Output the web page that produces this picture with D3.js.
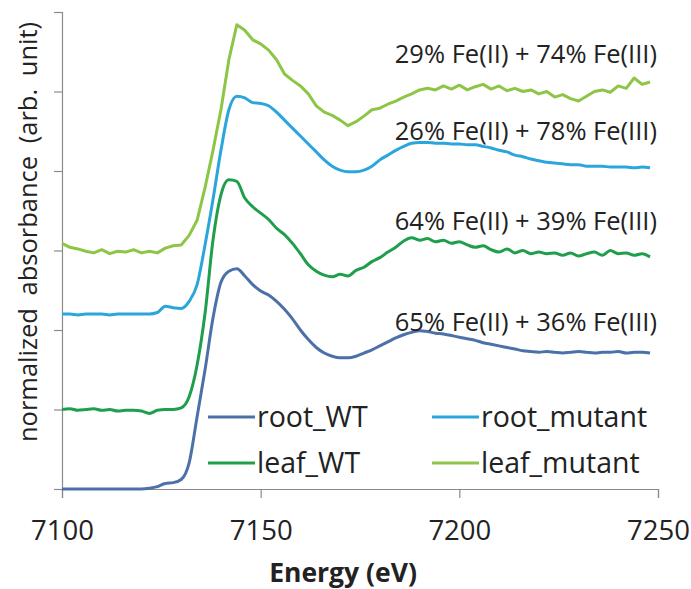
<!DOCTYPE html>
<html>
<head>
<meta charset="utf-8">
<script src="https://cdnjs.cloudflare.com/ajax/libs/d3/7.8.5/d3.min.js"></script>
<style>
  body { margin: 0; background: #fff; }
  svg { display: block; font-family: "Open Sans", "Liberation Sans", sans-serif; }
</style>
</head>
<body>
<script>
// energy grid (eV), every 2 eV from 7100 to 7248
var energy = d3.range(7100, 7249, 2);

// normalized absorbance, stacked with offsets as in the figure
var rootWT = [
  0,0,0,0,0,0,0,0,0,0,
  0,0.01,0.03,0.07,0.08,0.12,0.33,0.91,1.50,2.15,
  2.60,2.74,2.77,2.68,2.57,2.49,2.44,2.36,2.26,2.14,
  2.00,1.88,1.78,1.71,1.67,1.65,1.65,1.67,1.71,1.75,
  1.80,1.85,1.90,1.94,1.97,1.99,1.98,1.96,1.95,1.93,
  1.91,1.89,1.87,1.84,1.82,1.80,1.78,1.76,1.74,1.73,
  1.72,1.73,1.72,1.71,1.72,1.73,1.72,1.71,1.72,1.72,
  1.73,1.71,1.72,1.72,1.71
];
var rootMutant = [
  2.20,2.20,2.19,2.20,2.20,2.20,2.19,2.20,2.20,2.20,
  2.20,2.20,2.22,2.30,2.28,2.27,2.36,2.57,3.07,3.64,
  4.26,4.77,4.94,4.92,4.86,4.85,4.82,4.74,4.64,4.54,
  4.44,4.34,4.24,4.14,4.06,4.01,3.99,3.99,4.01,4.06,
  4.14,4.20,4.26,4.31,4.35,4.36,4.36,4.35,4.35,4.34,
  4.34,4.33,4.33,4.31,4.29,4.26,4.24,4.20,4.18,4.15,
  4.13,4.11,4.10,4.09,4.08,4.08,4.06,4.06,4.06,4.05,
  4.05,4.05,4.04,4.05,4.04
];
var leafWT = [
  1.00,1.01,0.99,1.00,1.01,0.99,1.00,0.98,0.99,0.99,
  0.98,0.95,0.99,1.00,1.00,1.02,1.16,1.56,2.21,3.13,
  3.70,3.89,3.87,3.66,3.55,3.47,3.39,3.28,3.20,3.09,
  2.96,2.82,2.74,2.69,2.67,2.70,2.68,2.75,2.79,2.86,
  2.91,2.98,3.04,3.12,3.16,3.13,3.15,3.11,3.13,3.09,
  3.11,3.07,3.04,3.06,3.01,2.98,3.02,2.97,3.00,2.96,
  2.98,2.96,2.97,2.94,2.97,2.93,2.96,2.98,2.94,3.00,
  2.96,2.97,2.94,2.96,2.92
];
var leafMutant = [
  3.09,3.04,3.02,2.99,2.97,3.01,2.96,2.99,2.98,3.01,
  2.97,2.99,2.97,3.03,3.06,3.07,3.19,3.38,3.79,4.26,
  4.77,5.40,5.84,5.77,5.65,5.60,5.52,5.40,5.22,5.14,
  5.07,4.97,4.82,4.74,4.70,4.64,4.57,4.62,4.69,4.77,
  4.79,4.84,4.88,4.93,4.97,5.02,5.04,5.02,5.07,5.03,
  5.08,5.02,5.06,5.09,5.03,5.07,5.01,5.04,5.00,5.02,
  4.97,5.00,4.93,4.96,4.91,4.88,4.94,5.00,5.02,4.99,
  5.07,5.04,5.17,5.09,5.12
];

var seriesNames = ["root_WT", "root_mutant", "leaf_WT", "leaf_mutant"];
var seriesValues = [rootWT, rootMutant, leafWT, leafMutant];
var seriesColors = ["#4c70a8", "#2ba6dc", "#1f9f4c", "#8dc646"];

var fitLabels = ["65% Fe(II) + 36% Fe(III)", "26% Fe(II) + 78% Fe(III)",
                 "64% Fe(II) + 39% Fe(III)", "29% Fe(II) + 74% Fe(III)"];
var fitLabelY = [1.99, 4.39, 3.26, 5.36];   // data units, baseline of each label

var xTicks = [7100, 7150, 7200, 7250];
var yTicks = [0, 1, 2, 3, 4, 5, 6];

var width = 691, height = 589;
var margin = {top: 12, right: 33, bottom: 100, left: 62};

var x = d3.scaleLinear().domain([7100, 7250]).range([margin.left, width - margin.right]);
var y = d3.scaleLinear().domain([0, 6]).range([height - margin.bottom, margin.top]);

var svg = d3.select("body").append("svg")
    .attr("width", width)
    .attr("height", height);

// axes
var xAxis = svg.append("g")
    .attr("transform", "translate(0," + y(0) + ")")
    .call(d3.axisBottom(x).tickValues(xTicks).tickSize(9).tickFormat(d3.format("d")));
xAxis.attr("font-family", null).attr("font-size", null);
xAxis.selectAll("text")
    .attr("y", 51).attr("dy", 0)
    .attr("fill", "#222")
    .style("font-size", "27.5px");

var yAxis = svg.append("g")
    .attr("transform", "translate(" + x(7100) + ",0)")
    .call(d3.axisLeft(y).tickValues(yTicks).tickSize(8).tickFormat(""));

svg.selectAll(".domain, .tick line").attr("stroke", "#8a8a8a").attr("stroke-width", 1.2);

// curves
var line = d3.line()
    .x(function (d, i) { return x(energy[i]); })
    .y(function (d) { return y(d); });

svg.append("g").selectAll("path")
    .data(seriesValues)
    .enter().append("path")
    .attr("d", function (d, i) {
        // root spectra are smooth, leaf_mutant is noisy
        return line.curve(i === 3 ? d3.curveLinear : d3.curveMonotoneX)(d);
    })
    .attr("fill", "none")
    .attr("stroke", function (d, i) { return seriesColors[i]; })
    .attr("stroke-width", 3)
    .attr("stroke-linejoin", "round");

// fit annotations
svg.append("g").selectAll("text")
    .data(fitLabels)
    .enter().append("text")
    .attr("x", 657)
    .attr("y", function (d, i) { return y(fitLabelY[i]); })
    .attr("text-anchor", "end")
    .attr("fill", "#222")
    .style("font-size", "25.5px")
    .text(function (d) { return d; });

// legend
var legend = svg.append("g").selectAll("g")
    .data(seriesNames)
    .enter().append("g")
    .attr("transform", function (d, i) {
        return "translate(" + (i % 2 ? 432 : 208) + "," + (i < 2 ? 417 : 463) + ")";
    });
legend.append("line")
    .attr("x1", 0).attr("x2", 47)
    .attr("stroke", function (d, i) { return seriesColors[i]; })
    .attr("stroke-width", 3);
legend.append("text")
    .attr("x", 49).attr("y", 10)
    .attr("fill", "#222")
    .style("font-size", "28.5px")
    .text(function (d) { return d; });

// axis titles
svg.append("text")
    .attr("x", 343).attr("y", 582)
    .attr("text-anchor", "middle")
    .attr("fill", "#222")
    .style("font-size", "26.5px")
    .style("font-weight", "bold")
    .text("Energy (eV)");

svg.append("text")
    .attr("transform", "translate(37,232) rotate(-90)")
    .attr("text-anchor", "middle")
    .attr("fill", "#222")
    .style("font-size", "25.5px")
    .style("word-spacing", "6px")
    .text("normalized absorbance (arb. unit)");
</script>
</body>
</html>
